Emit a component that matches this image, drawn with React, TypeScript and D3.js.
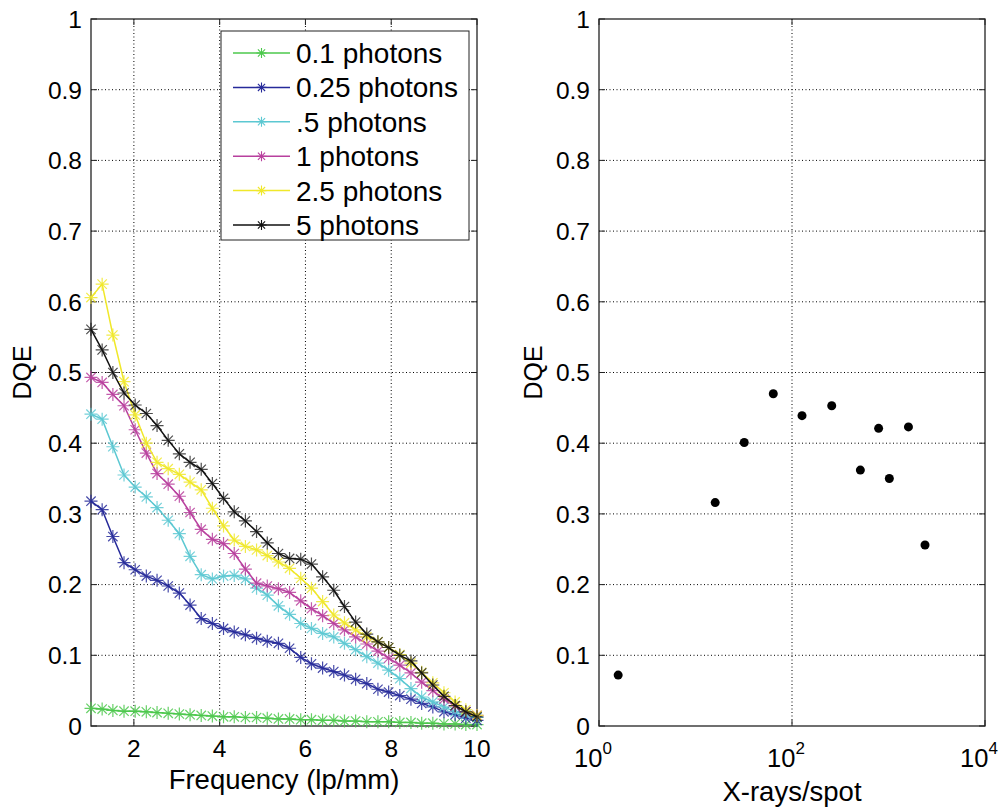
import React from 'react';
import * as d3 from 'd3';

// spatial frequencies (lp/mm) sampled for the DQE curves
const freq = [1.00, 1.26, 1.51, 1.77, 2.03, 2.29, 2.54, 2.80, 3.06, 3.31, 3.57, 3.83, 4.09, 4.34, 4.60, 4.86, 5.11, 5.37,
  5.63, 5.89, 6.14, 6.40, 6.66, 6.91, 7.17, 7.43, 7.69, 7.94, 8.20, 8.46, 8.71, 8.97, 9.23, 9.49, 9.74, 10.00];

const dqe01 = [0.025, 0.024, 0.022, 0.021, 0.021, 0.020, 0.019, 0.018, 0.017, 0.016, 0.015, 0.014, 0.013, 0.013, 0.012, 0.012, 0.011, 0.010,
  0.010, 0.009, 0.009, 0.008, 0.008, 0.007, 0.007, 0.006, 0.006, 0.006, 0.005, 0.005, 0.004, 0.004, 0.003, 0.003, 0.002, 0.002];
const dqe025 = [0.318, 0.306, 0.268, 0.231, 0.221, 0.212, 0.206, 0.198, 0.188, 0.171, 0.152, 0.145, 0.138, 0.133, 0.129, 0.124, 0.120, 0.117,
  0.110, 0.097, 0.088, 0.082, 0.077, 0.072, 0.066, 0.060, 0.052, 0.048, 0.043, 0.038, 0.032, 0.027, 0.020, 0.016, 0.011, 0.008];
const dqe05 = [0.441, 0.434, 0.395, 0.355, 0.338, 0.324, 0.309, 0.291, 0.272, 0.240, 0.214, 0.208, 0.212, 0.213, 0.208, 0.195, 0.185, 0.170,
  0.158, 0.145, 0.138, 0.131, 0.126, 0.117, 0.108, 0.098, 0.089, 0.079, 0.067, 0.053, 0.041, 0.034, 0.027, 0.020, 0.016, 0.012];
const dqe1 = [0.493, 0.486, 0.469, 0.453, 0.419, 0.386, 0.357, 0.342, 0.325, 0.302, 0.278, 0.264, 0.258, 0.244, 0.222, 0.202, 0.198, 0.194,
  0.189, 0.177, 0.166, 0.156, 0.145, 0.136, 0.126, 0.116, 0.106, 0.096, 0.086, 0.075, 0.062, 0.050, 0.038, 0.028, 0.020, 0.015];
const dqe25 = [0.606, 0.625, 0.553, 0.487, 0.440, 0.400, 0.373, 0.364, 0.356, 0.345, 0.334, 0.308, 0.283, 0.263, 0.254, 0.249, 0.241, 0.232,
  0.223, 0.209, 0.195, 0.176, 0.157, 0.146, 0.136, 0.126, 0.119, 0.111, 0.101, 0.089, 0.076, 0.061, 0.047, 0.034, 0.023, 0.015];
const dqe5 = [0.561, 0.532, 0.500, 0.471, 0.454, 0.442, 0.425, 0.404, 0.385, 0.373, 0.363, 0.343, 0.322, 0.303, 0.290, 0.275, 0.259, 0.244,
  0.237, 0.236, 0.229, 0.211, 0.192, 0.169, 0.147, 0.130, 0.119, 0.111, 0.100, 0.092, 0.075, 0.058, 0.042, 0.029, 0.020, 0.013];

const seriesNames = ['0.1 photons', '0.25 photons', '.5 photons', '1 photons', '2.5 photons', '5 photons'];
const seriesColors = ['#4cc84c', '#262a9a', '#5cc8d2', '#b8409e', '#f0e82a', '#111111'];
const seriesValues = [dqe01, dqe025, dqe05, dqe1, dqe25, dqe5];

// right panel: DQE vs X-rays per spot
const xraysPerSpot = [1.58, 16, 32, 64, 127, 258, 511, 790, 1020, 1610, 2390];
const dqeSpot = [0.072, 0.316, 0.401, 0.470, 0.439, 0.453, 0.362, 0.421, 0.350, 0.423, 0.256];

const yTicks = [0, 0.1, 0.2, 0.3, 0.4, 0.5, 0.6, 0.7, 0.8, 0.9, 1];
const freqTicks = [2, 4, 6, 8, 10];
const logTicks = [1, 100, 10000];

const FONT = 'Liberation Sans, Arial, sans-serif';
const TOP = 19, BOTTOM = 726;

const star = (s: number) => {
  const d = s * 0.72;
  return `M${-s},0H${s}M0,${-s}V${s}M${-d},${-d}L${d},${d}M${-d},${d}L${d},${-d}`;
};

function Frame({ x0, x1, xTicksPx, y }: { x0: number; x1: number; xTicksPx: number[]; y: d3.ScaleLinear<number, number> }) {
  return (
    <g>
      {yTicks.map(t => (
        <g key={'y' + t}>
          {t > 0 && t < 1 && <line x1={x0} x2={x1} y1={y(t)} y2={y(t)} stroke="#000" strokeWidth={1} strokeDasharray="1,2.5" />}
          <line x1={x0} x2={x0 + 6} y1={y(t)} y2={y(t)} stroke="#222" />
          <line x1={x1} x2={x1 - 6} y1={y(t)} y2={y(t)} stroke="#222" />
          <text x={x0 - 9} y={y(t)} dy="0.36em" textAnchor="end" fontSize={24.5} fontFamily={FONT}>{d3.format('')(t)}</text>
        </g>
      ))}
      {xTicksPx.map((px, i) => (
        <g key={'x' + i}>
          {px > x0 + 1 && px < x1 - 1 && <line x1={px} x2={px} y1={TOP} y2={BOTTOM} stroke="#000" strokeWidth={1} strokeDasharray="1,2.5" />}
          <line x1={px} x2={px} y1={BOTTOM} y2={BOTTOM - 6} stroke="#222" />
          <line x1={px} x2={px} y1={TOP} y2={TOP + 6} stroke="#222" />
        </g>
      ))}
      <rect x={x0} y={TOP} width={x1 - x0} height={BOTTOM - TOP} fill="none" stroke="#222" strokeWidth={1.3} />
    </g>
  );
}

export default function App() {
  const xL = d3.scaleLinear().domain([1, 10]).range([91, 477]);
  const xR = d3.scaleLog().domain([1, 10000]).range([599, 985]);
  const y = d3.scaleLinear().domain([0, 1]).range([BOTTOM, TOP]);

  const line = d3.line<number>().x((_, i) => xL(freq[i])).y(v => y(v));

  const legendX = 221, legendY = 31, legendW = 248, legendH = 209;
  const rowH = 34.4;

  return (
    <svg width={1008} height={807} style={{ position: 'absolute', left: 0, top: 0, background: '#fff' }}>
      <rect width={1008} height={807} fill="#fff" />

      {/* left panel */}
      <Frame x0={91} x1={477} xTicksPx={freqTicks.map(t => xL(t))} y={y} />
      {freqTicks.map(t => (
        <text key={t} x={xL(t)} y={757} textAnchor="middle" fontSize={24.5} fontFamily={FONT}>{t}</text>
      ))}
      {seriesValues.map((vals, si) => (
        <g key={si} stroke={seriesColors[si]} fill="none">
          <path d={line(vals) || ''} strokeWidth={1.5} />
          {vals.map((v, i) => (
            <path key={i} d={star(6.5)} transform={`translate(${xL(freq[i])},${y(v)})`} strokeWidth={1.2}
              opacity={si === 5 ? 0.75 : 0.85} />
          ))}
        </g>
      ))}
      <text x={284} y={789} textAnchor="middle" fontSize={27.5} fontFamily={FONT}>Frequency (lp/mm)</text>
      <text transform={`translate(31,${(TOP + BOTTOM) / 2}) rotate(-90)`} textAnchor="middle" fontSize={25} fontFamily={FONT}>DQE</text>

      {/* legend */}
      <rect x={legendX} y={legendY} width={legendW} height={legendH} fill="#fff" stroke="#222" strokeWidth={1} />
      {seriesNames.map((name, i) => {
        const cy = legendY + 22 + i * rowH;
        return (
          <g key={name}>
            <line x1={233} x2={290} y1={cy} y2={cy} stroke={seriesColors[i]} strokeWidth={1.5} />
            <path d={star(5)} transform={`translate(261.5,${cy})`} stroke={seriesColors[i]} fill="none" strokeWidth={1.1} />
            <text x={296} y={cy} dy="0.36em" fontSize={28} fontFamily={FONT}>{name}</text>
          </g>
        );
      })}

      {/* right panel */}
      <Frame x0={599} x1={985} xTicksPx={logTicks.map(t => xR(t))} y={y} />
      {logTicks.map(t => (
        <text key={t} x={xR(t) - 6} y={767} textAnchor="middle" fontSize={25.5} fontFamily={FONT}>
          10<tspan dy={-13} fontSize={17}>{Math.round(Math.log10(t))}</tspan>
        </text>
      ))}
      {xraysPerSpot.map((xv, i) => (
        <circle key={i} cx={xR(xv)} cy={y(dqeSpot[i])} r={4.5} fill="#000" />
      ))}
      <text x={792} y={801} textAnchor="middle" fontSize={27.5} fontFamily={FONT}>X-rays/spot</text>
      <text transform={`translate(542,${(TOP + BOTTOM) / 2}) rotate(-90)`} textAnchor="middle" fontSize={25} fontFamily={FONT}>DQE</text>
    </svg>
  );
}
